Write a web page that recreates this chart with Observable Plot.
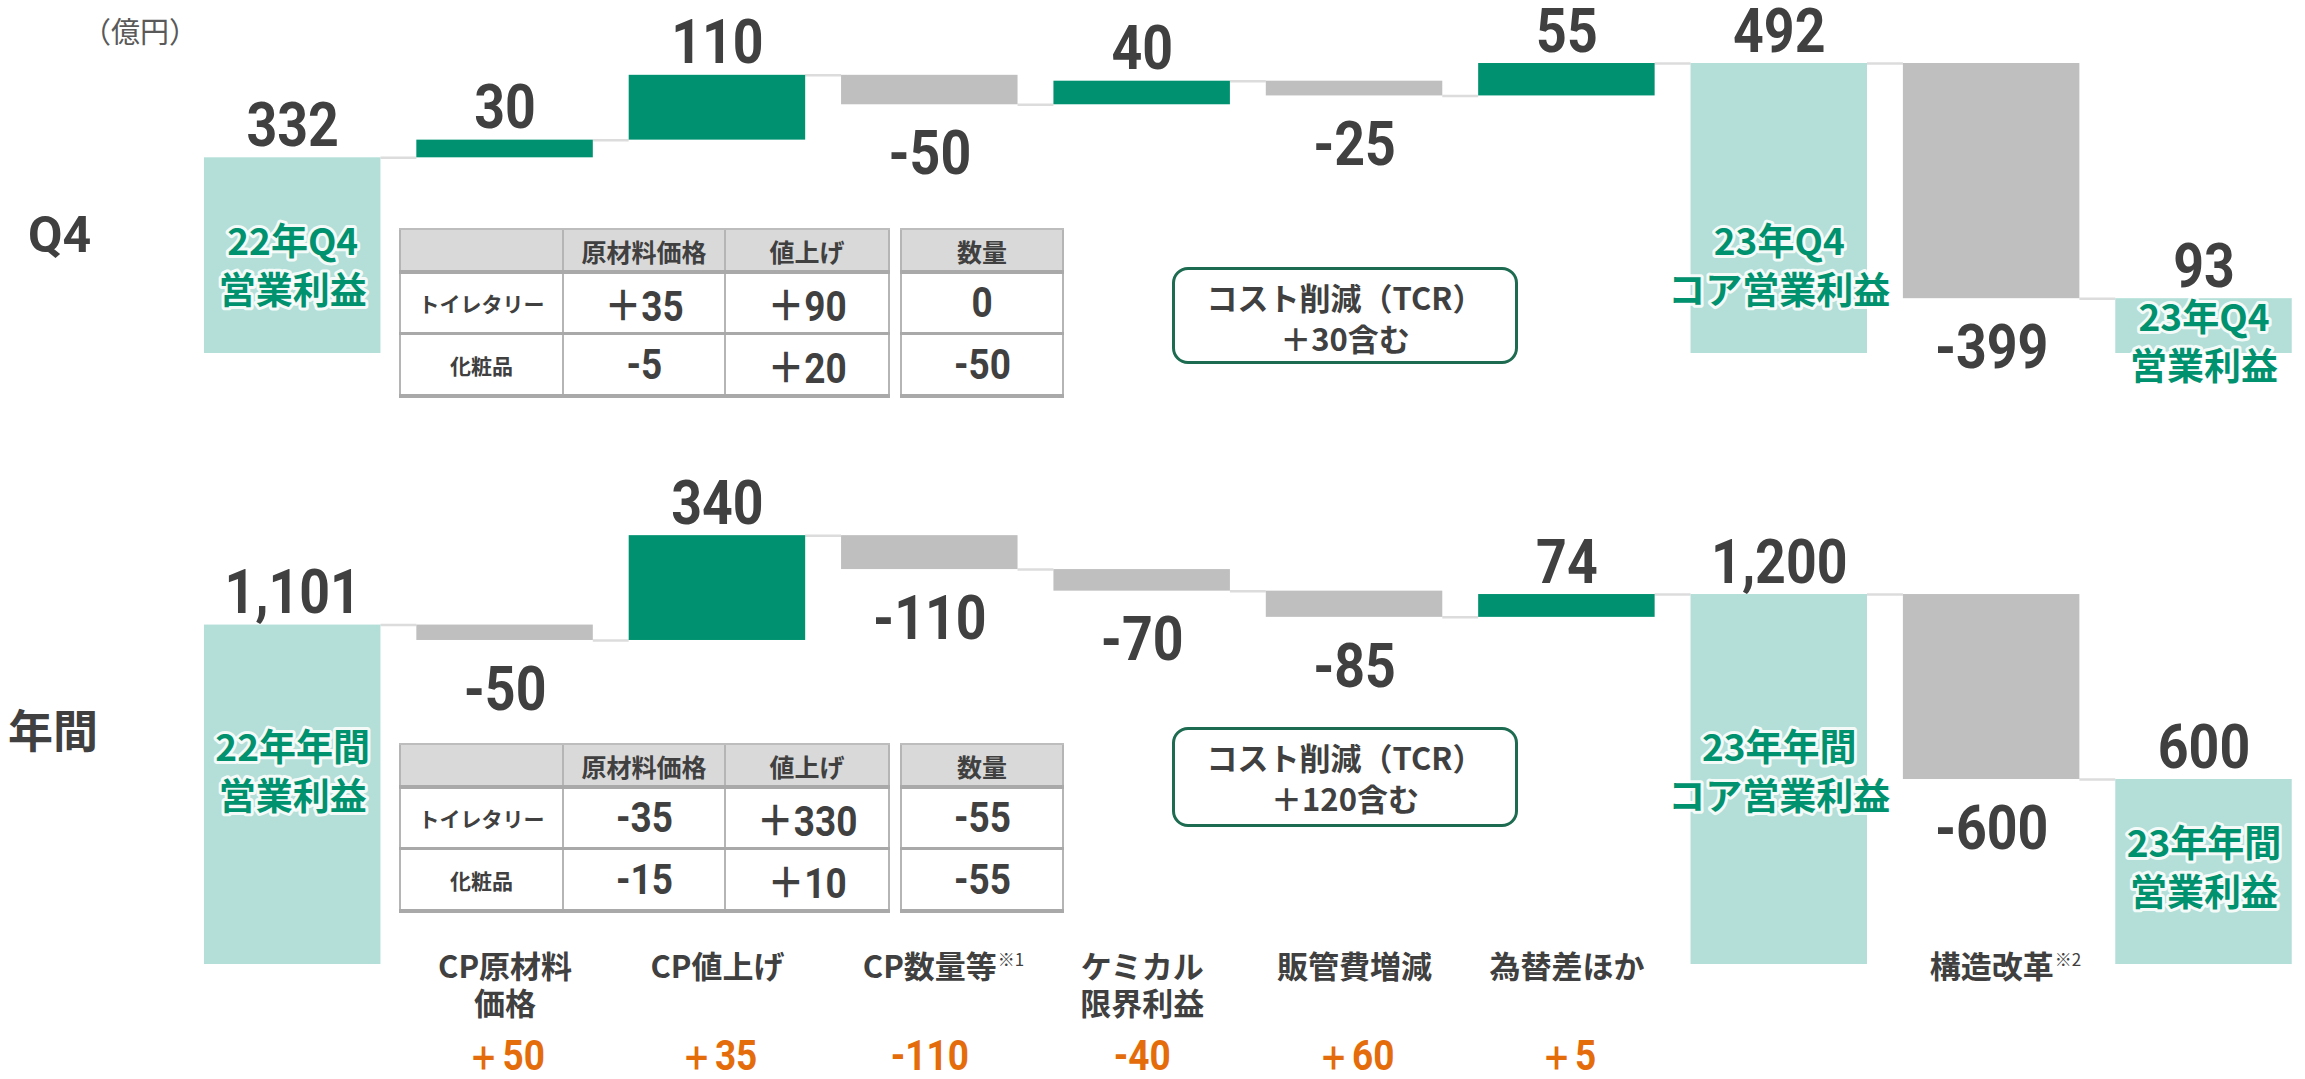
<!DOCTYPE html>
<html>
<head>
<meta charset="utf-8">
<script src="https://cdn.jsdelivr.net/npm/d3@7"></script>
<script src="https://cdn.jsdelivr.net/npm/@observablehq/plot@0.6"></script>
<style>
html, body { margin: 0; padding: 0; background: #fff; overflow: hidden; }
#page { position: relative; width: 2305px; height: 1079px; overflow: hidden;
  font-family: "Noto Sans CJK JP", sans-serif; color: #404040; }
#page svg { position: absolute; left: 0; top: 0; }
.abs { position: absolute; }
.cell { position: absolute; display: flex; align-items: center; justify-content: center; white-space: nowrap; }
.cell span { display: inline-block; }
.line { position: absolute; background: #b5b5b5; }
.tcr { position: absolute; box-sizing: border-box; border: 3px solid #1d6b50; border-radius: 16px; }
.tcr div { position: absolute; left: 0; right: 0; text-align: center; font-weight: bold; font-size: 31px; line-height: 1; }
</style>
</head>
<body>
<div id="page"></div>
<script>
// ---------------- DATA ----------------
const categories = ["22年実績", "CP原材料価格", "CP値上げ", "CP数量等", "ケミカル限界利益", "販管費増減", "為替差ほか", "23年コア実績", "構造改革", "23年実績"];
const stepTypes = ["total", "delta", "delta", "delta", "delta", "delta", "delta", "total", "delta", "total"];
const q4Values = [332, 30, 110, -50, 40, -25, 55, 492, -399, 93];
const annualValues = [1101, -50, 340, -110, -70, -85, 74, 1200, -600, 600];
const q4TotalLabels = ["22年Q4\n営業利益", "23年Q4\nコア営業利益", "23年Q4\n営業利益"];
const annualTotalLabels = ["22年年間\n営業利益", "23年年間\nコア営業利益", "23年年間\n営業利益"];
const categoryLabels = ["", "CP原材料\n価格", "CP値上げ", "CP数量等", "ケミカル\n限界利益", "販管費増減", "為替差ほか", "", "構造改革", ""];
const categoryNotes = ["", "", "", "※1", "", "", "", "", "※2", ""];
const cpImpacts = [null, 50, 35, -110, -40, 60, 5, null, null, null];
const tableColumns = ["原材料価格", "値上げ", "数量"];
const tableRows = ["トイレタリー", "化粧品"];
const q4Table = [[35, 90, 0], [-5, 20, -50]];
const annualTable = [[-35, 330, -55], [-15, 10, -55]];
const q4TcrNote = ["コスト削減（TCR）", "＋30含む"];
const annualTcrNote = ["コスト削減（TCR）", "＋120含む"];
const unitLabel = "（億円）";
const panelTitles = ["Q4", "年間"];

// ---------------- STYLE ----------------
const COLORS = { total: "#b3dfd8", up: "#009270", down: "#bfbfbf", link: "#dcdcdc",
  text: "#404040", green: "#00916f", orange: "#e46c0a" };
const NUM_FONT = "Roboto, sans-serif";
const JP_FONT = "'Noto Sans CJK JP', sans-serif";
const SQUEEZE = 0.88;
const HW = 0.4155; // half bar width in band units
const X = { type: "linear", domain: [0, 9], range: [292.2, 2203.5] };

const page = document.getElementById("page");
const fmt = v => (v < 0 ? "-" : "") + d3.format(",")(Math.abs(v));
const fmtSigned = v => v > 0 ? "＋" + v : v < 0 ? "-" + Math.abs(v) : "0";

function waterfall(values) {
  let run = 0;
  return values.map((v, i) => {
    let y1, y2;
    if (stepTypes[i] === "total") { y1 = 0; y2 = v; }
    else { y1 = run; y2 = run + v; }
    run = y2;
    return { i, v, y1, y2, top: Math.max(y1, y2), bottom: Math.min(y1, y2), type: stepTypes[i], end: run };
  });
}

function squeeze(svg, k) {
  svg.querySelectorAll('g[font-family^="Roboto"] text').forEach(t => {
    const tr = t.getAttribute("transform");
    if (tr) t.setAttribute("transform", tr + ` scale(${k},1)`);
    else {
      const x = parseFloat(t.getAttribute("x")) || 0;
      t.setAttribute("x", 0);
      t.setAttribute("transform", `translate(${x},0) scale(${k},1)`);
    }
  });
}

const measure = document.createElement("canvas").getContext("2d");

function panel(cfg) {
  const bars = waterfall(cfg.values);
  const links = bars.slice(0, -1).map(b => ({ i: b.i, level: b.end }));
  const totals = bars.filter(b => b.type === "total").map((b, k) => ({ ...b, label: cfg.totalLabels[k] }));
  const numStyle = { fontFamily: NUM_FONT, fontWeight: "bold", fontSize: 61, fill: COLORS.text };
  const inBarStyle = { fontFamily: JP_FONT, fontWeight: "bold", fontSize: 37, lineHeight: 1.32,
    fill: COLORS.green, stroke: "white", strokeWidth: 6, strokeOpacity: 0.85, paintOrder: "stroke", lineAnchor: "middle" };
  const marks = [
    Plot.ruleY(links, { x1: d => d.i + HW, x2: d => d.i + 1 - HW, y: "level", stroke: COLORS.link, strokeWidth: 2.5 }),
    Plot.rect(bars, { x1: d => d.i - HW, x2: d => d.i + HW, y1: "y1", y2: "y2",
      fill: d => d.type === "total" ? COLORS.total : d.v >= 0 ? COLORS.up : COLORS.down }),
    Plot.text(bars.filter(d => d.v >= 0), { x: "i", y: "top", text: d => fmt(d.v), lineAnchor: "bottom", dy: -12, ...numStyle }),
    Plot.text(bars.filter(d => d.v < 0), { x: "i", y: "bottom", text: d => fmt(d.v), lineAnchor: "top", dy: 26, ...numStyle }),
    Plot.text(totals.slice(0, 2), { x: "i", y: () => cfg.totalLabelLevel, text: "label", ...inBarStyle }),
    Plot.text(totals.slice(2), { x: "i", y: "top", text: "label", dy: cfg.finalLabelDy, ...inBarStyle })
  ];
  if (cfg.bottom) {
    const cats = categoryLabels.map((t, i) => ({ i, t, note: categoryNotes[i], impact: cpImpacts[i] }));
    marks.push(Plot.text(cats.filter(d => d.t), { x: "i", frameAnchor: "top", lineAnchor: "top", dy: 951,
      text: "t", fontFamily: JP_FONT, fontWeight: "bold", fontSize: 31, lineHeight: 1.19, fill: COLORS.text }));
    measure.font = `bold 31px "Noto Sans CJK JP"`;
    cats.filter(d => d.note).forEach(d => {
      const w = measure.measureText(d.t.split("\n")[0]).width;
      marks.push(Plot.text([d], { x: "i", frameAnchor: "top", lineAnchor: "top", dy: 953, dx: w / 2 + 1,
        textAnchor: "start", text: "note", fontFamily: JP_FONT, fontSize: 17, fill: COLORS.text }));
    });
    marks.push(Plot.text(cats.filter(d => d.impact != null), { x: "i", frameAnchor: "top", lineAnchor: "middle", dy: 1056,
      text: d => fmtSigned(d.impact), fontFamily: NUM_FONT, fontWeight: "bold", fontSize: 42, fill: COLORS.orange }));
  }
  const svg = Plot.plot({
    width: 2305, height: 1079, margin: 0,
    x: X,
    y: { domain: [0, cfg.yMax], range: cfg.yRange },
    axis: null,
    style: { background: "transparent", overflow: "visible" },
    marks
  });
  squeeze(svg, SQUEEZE);
  page.appendChild(svg);
}

panel({ values: q4Values, totalLabels: q4TotalLabels, yMax: 492, yRange: [353, 353 - 492 * 0.5894],
  totalLabelLevel: 152, finalLabelDy: 41, bottom: false });
panel({ values: annualValues, totalLabels: annualTotalLabels, yMax: 1200, yRange: [964, 964 - 1200 * 0.3083],
  totalLabelLevel: 630, finalLabelDy: 86, bottom: true });

// ---------------- TABLES ----------------
function el(cls, css, text) {
  const d = document.createElement("div");
  d.className = cls;
  Object.assign(d.style, css);
  if (text != null) d.textContent = text;
  page.appendChild(d);
  return d;
}
function table(top, values) {
  const ys = [top, top + 43, top + 104, top + 167];
  const groups = [[400, 563, 725, 889], [901, 1063]];
  groups.forEach(xs => el("abs", { left: xs[0] + "px", top: ys[0] + "px", width: (xs[xs.length - 1] - xs[0]) + "px",
    height: (ys[1] - ys[0]) + "px", background: "#d9d9d9" }));
  const headerCells = [[563, 725, tableColumns[0]], [725, 889, tableColumns[1]], [901, 1063, tableColumns[2]]];
  headerCells.forEach(([a, b, t]) => el("cell", { left: a + "px", width: (b - a) + "px", top: ys[0] + "px", height: (ys[1] - ys[0]) + "px",
    fontWeight: "bold", fontSize: "25px" }, t));
  tableRows.forEach((r, ri) => {
    const t0 = ys[ri + 1], t1 = ys[ri + 2];
    el("cell", { left: "400px", width: "163px", top: t0 + "px", height: (t1 - t0) + "px", fontWeight: "bold", fontSize: "21px" }, r);
    const cols = [[563, 725], [725, 889], [901, 1063]];
    cols.forEach(([a, b], ci) => {
      const c = el("cell", { left: a + "px", width: (b - a) + "px", top: t0 + "px", height: (t1 - t0) + "px",
        fontFamily: NUM_FONT + ", 'Noto Sans CJK JP'", fontWeight: "bold", fontSize: "42px" });
      const s = document.createElement("span");
      s.textContent = fmtSigned(values[ri][ci]);
      s.style.transform = `scaleX(${SQUEEZE})`;
      c.appendChild(s);
    });
  });
  groups.forEach(xs => {
    const x0 = xs[0], x1 = xs[xs.length - 1];
    xs.forEach(x => el("line", { left: (x - 1) + "px", top: ys[0] + "px", width: "2px", height: (ys[3] - ys[0] + 2) + "px" }));
    [[ys[0], 2], [ys[1], 4], [ys[2], 3], [ys[3], 4]].forEach(([y, t]) =>
      el("line", { left: (x0 - 1) + "px", top: (y - t / 2) + "px", width: (x1 - x0 + 2) + "px", height: t + "px",
        background: t >= 3 ? "#a9a9a9" : "#bdbdbd" }));
  });
}
table(229, q4Table);
table(744, annualTable);

function tcr(top, height, lines) {
  const box = el("tcr", { left: "1172px", top: top + "px", width: "346px", height: height + "px" });
  lines.forEach((t, k) => {
    const d = document.createElement("div");
    d.textContent = t;
    d.style.top = (k === 0 ? 11 : 52) + "px";
    box.appendChild(d);
  });
}
tcr(267, 97, q4TcrNote);
tcr(727, 100, annualTcrNote);

// ---------------- TITLES ----------------
el("abs", { left: "82px", top: "16px", fontSize: "29px", color: "#595959", lineHeight: "1" }, unitLabel);
el("abs", { left: "28px", top: "210px", fontSize: "50px", fontWeight: "bold", fontFamily: NUM_FONT, lineHeight: "1" }, panelTitles[0]);
el("abs", { left: "8px", top: "706px", fontSize: "45px", fontWeight: "bold", lineHeight: "1" }, panelTitles[1]);
</script>
</body>
</html>
